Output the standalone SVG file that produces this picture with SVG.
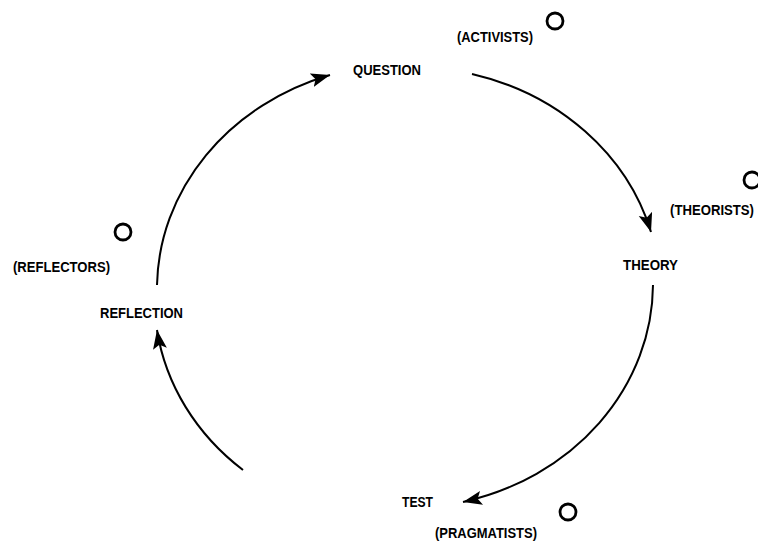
<svg xmlns="http://www.w3.org/2000/svg" width="758" height="543" viewBox="0 0 758 543">
  <style>
    .lbl { font-family: "Liberation Sans", Arial, sans-serif; font-size: 14px; font-weight: bold; fill: #000; }
    .arc { fill: none; stroke: #000; stroke-width: 2; }
    .ring { fill: none; stroke: #000; stroke-width: 2.8; }
  </style>
  <defs>
    <marker id="head" markerUnits="userSpaceOnUse" markerWidth="22" markerHeight="16" refX="19" refY="7" orient="auto">
      <path d="M0,0 L19,7 L0,14 L4,7 Z" fill="#000"/>
    </marker>
  </defs>

  <rect width="758" height="543" fill="#fff"/>

  <g id="connectors">
    <path class="arc" d="M157,285 A 250 225 0 0 1 330,75" marker-end="url(#head)"/>
    <path class="arc" d="M472,74 A 250 225 0 0 1 651,232" marker-end="url(#head)"/>
    <path class="arc" d="M653,285 A 250 225 0 0 1 463,502" marker-end="url(#head)"/>
    <path class="arc" d="M243,470 A 250 225 0 0 1 157,330" marker-end="url(#head)"/>
  </g>

  <g id="question">
    <text class="lbl" x="353" y="75" textLength="68" lengthAdjust="spacingAndGlyphs">QUESTION</text>
  </g>
  <g id="theory">
    <text class="lbl" x="623" y="270" textLength="55" lengthAdjust="spacingAndGlyphs">THEORY</text>
  </g>
  <g id="test">
    <text class="lbl" x="402" y="507" textLength="31" lengthAdjust="spacingAndGlyphs">TEST</text>
  </g>
  <g id="reflection">
    <text class="lbl" x="100" y="318" textLength="83" lengthAdjust="spacingAndGlyphs">REFLECTION</text>
  </g>

  <g id="activists">
    <circle class="ring" cx="555" cy="21" r="8"/>
    <text class="lbl" x="457" y="42" textLength="76" lengthAdjust="spacingAndGlyphs">(ACTIVISTS)</text>
  </g>
  <g id="theorists">
    <circle class="ring" cx="752" cy="180" r="8"/>
    <text class="lbl" x="670" y="215" textLength="84" lengthAdjust="spacingAndGlyphs">(THEORISTS)</text>
  </g>
  <g id="pragmatists">
    <circle class="ring" cx="568" cy="512" r="8"/>
    <text class="lbl" x="435" y="538" textLength="102" lengthAdjust="spacingAndGlyphs">(PRAGMATISTS)</text>
  </g>
  <g id="reflectors">
    <circle class="ring" cx="123" cy="232" r="8"/>
    <text class="lbl" x="13" y="272" textLength="97" lengthAdjust="spacingAndGlyphs">(REFLECTORS)</text>
  </g>
</svg>
